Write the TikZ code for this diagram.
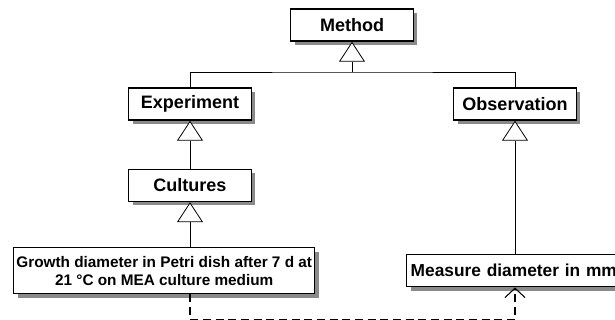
\documentclass[tikz,border=0pt]{standalone}
\usepackage{fontspec}
\setmainfont{Liberation Sans}
\usetikzlibrary{arrows.meta,positioning,shadows}
\definecolor{ink}{HTML}{000000}
\definecolor{shade}{HTML}{8A8A8A}
\tikzset{
  every node/.style={font=\bfseries\fontsize{13.5}{15}\selectfont,text=ink},
  cls/.style={draw=ink,line width=1.1pt,fill=white,minimum width=92pt,minimum height=24pt,align=center,inner sep=2pt,
    drop shadow={shadow xshift=3pt,shadow yshift=-3pt,fill=shade,opacity=1}},
  wide/.style={cls,minimum height=34.5pt,font=\bfseries\fontsize{11.5}{13.5}\selectfont},
  link/.style={draw=ink,line width=0.6pt},
  gen/.style={link,-{Triangle[fill=white,length=15pt,width=19.5pt]}},
  dep/.style={draw=ink,line width=1.2pt,dash pattern=on 6pt off 3.5pt,-{Straight Barb[length=7pt,width=15pt,line width=0.8pt]}},
}
\begin{document}
\begin{tikzpicture}[x=0.75pt,y=-0.75pt,node distance=36pt]
\clip (0,0) rectangle (615,320);
\node[cls] (meth) at (352,25) {Method};
\node[cls] (exp) at (190,104) {Experiment};
\node[cls] (obs) at (515,104) {Observation};
\node[cls,below=of exp] (cult) {Cultures};
\node[wide,anchor=north west,minimum width=223pt] (grow) at (13,247) {Growth diameter in Petri dish after 7 d at\\21 °C on MEA culture medium};
\node[cls,anchor=north west,minimum width=164pt,align=left,text width=158pt,inner xsep=1.5pt,font=\bfseries\fontsize{13}{15}\selectfont] (meas) at (406,254) {Measure diameter in mm};
\coordinate (bar) at (352,72);
% generalisation tree
\draw[gen] (bar) -- (meth);
\draw[link] (exp.north) |- (bar) -| (obs.north);
\draw[gen] (cult) -- (exp);
\draw[gen] (grow.north -| cult.south) -- (cult.south);
\draw[gen] (meas.north -| obs.south) -- (obs.south);
% dependency
\draw[dep] (grow.south -| cult.south) -- ++(0,25) -| (meas.south -| obs.south);
\end{tikzpicture}
\end{document}
